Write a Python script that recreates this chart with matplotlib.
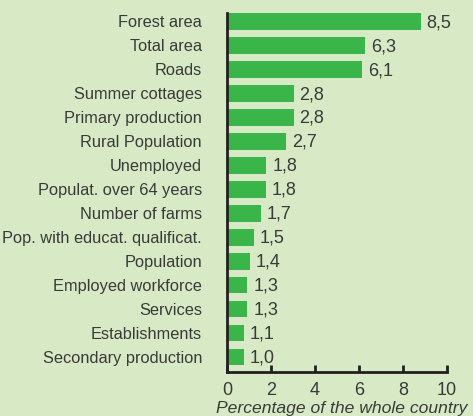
import numpy as np
import matplotlib.pyplot as plt

plt.rcParams['font.family'] = ['Liberation Sans', 'DejaVu Sans']

categories = ['Forest area', 'Total area', 'Roads', 'Summer cottages',
              'Primary production', 'Rural Population', 'Unemployed',
              'Populat. over 64 years', 'Number of farms',
              'Pop. with educat. qualificat.', 'Population',
              'Employed workforce', 'Services', 'Establishments',
              'Secondary production']
values = [8.5, 6.3, 6.1, 2.8, 2.8, 2.7, 1.8, 1.8, 1.7, 1.5, 1.4, 1.3, 1.3, 1.1, 1.0]
# bar lengths as drawn in the original (not exactly to scale)
bar_len = [8.77, 6.24, 6.1, 3.0, 3.0, 2.67, 1.76, 1.72, 1.5, 1.19, 1.0, 0.9, 0.9, 0.73, 0.73]
xticks = [0, 2, 4, 6, 8, 10]

bg = '#d7eac5'
green = '#39b54a'
txt = '#3a3a3a'

fig = plt.figure(figsize=(4.73, 4.16), dpi=100, facecolor=bg)
ax = fig.add_axes([227/473, 44/416, 220/473, 359/416], facecolor=bg)

y = np.arange(len(categories))
ax.barh(y, bar_len, height=0.7, color=green, left=0.03)
for yi, bl, v in zip(y, bar_len, values):
    ax.text(bl + 0.3, yi + 0.05, ('%.1f' % v).replace('.', ','), va='center', ha='left',
            fontsize=13, color=txt)

ax.set_ylim(14.625, -0.35)
ax.set_xlim(0, 10)
ax.set_yticks(y)
ax.set_yticklabels(categories, fontsize=11.8, color=txt)
ax.tick_params(axis='y', length=0, pad=18)
ax.set_xticks(xticks)
ax.set_xticklabels([str(t) for t in xticks], fontsize=13, color=txt)
ax.tick_params(axis='x', direction='in', length=5, width=2, color='#231f20', pad=7)
ax.set_xlabel('Percentage of the whole country', fontsize=12.6, color=txt,
              style='italic')
ax.xaxis.set_label_coords(0.52, -0.08)

for s in ['top', 'right']:
    ax.spines[s].set_visible(False)
for s in ['left', 'bottom']:
    ax.spines[s].set_linewidth(2)
    ax.spines[s].set_color('#231f20')

fig.savefig('out.png', dpi=100, facecolor=bg)
